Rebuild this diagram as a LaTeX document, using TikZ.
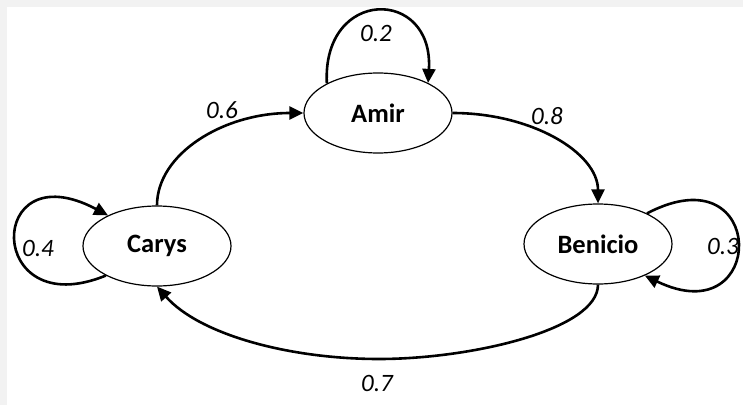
\documentclass[tikz,border=0pt]{standalone}
\usepackage{fontspec}
\setmainfont{Carlito}
\usetikzlibrary{arrows.meta,shapes.geometric}
\definecolor{bgcol}{HTML}{F2F2F2}
\begin{document}
\begin{tikzpicture}[x=1pt,y=1pt,
  state/.style={draw,ellipse,line width=1.2pt,minimum width=148pt,minimum height=80pt,inner sep=0pt,
    font=\fontsize{26.5}{30}\selectfont\bfseries},
  trans/.style={line width=2.6pt,-{Triangle[length=14pt,width=13pt]}},
  prob/.style={font=\fontsize{25}{29}\selectfont\itshape,inner sep=0pt}]
\fill[bgcol] (0,0) rectangle (743,405);
\fill[white] (7,0) rectangle (743,398);
\useasboundingbox (0,0) rectangle (743,405);
\node[state] (amir) at (378,292) {Amir};
\node[state] (carys) at (157,159) {Carys};
\node[state] (benicio) at (598,161) {Benicio};
% self loops
\draw[trans] (amir.150) .. controls (322,418) and (434,418) .. (amir.31);
\draw[trans] (carys.210) .. controls (-15,80) and (-15,255) .. (carys.148);
\draw[trans] (benicio.32) .. controls (768,255) and (768,70) .. (benicio.326);
% transitions
\draw[trans] (carys.north) .. controls (157,251) and (223,292) .. (amir.west);
\draw[trans] (amir.east) .. controls (532,292) and (598,252) .. (benicio.north);
\coordinate (low) at (379,46);
\draw[trans] (benicio.south) .. controls (598,75) and (470,46) .. (low)
  .. controls (290,46) and (200,70) .. (carys.south);
% labels
\node[prob] (p2) at (376,372) {0.2};
\node[prob] (p6) at (222,295) {0.6};
\node[prob] (p8) at (547,289) {0.8};
\node[prob] (p4) at (38,157) {0.4};
\node[prob] (p3) at (723,159) {0.3};
\node[prob] (p7) at (377,22) {0.7};
\end{tikzpicture}
\end{document}
